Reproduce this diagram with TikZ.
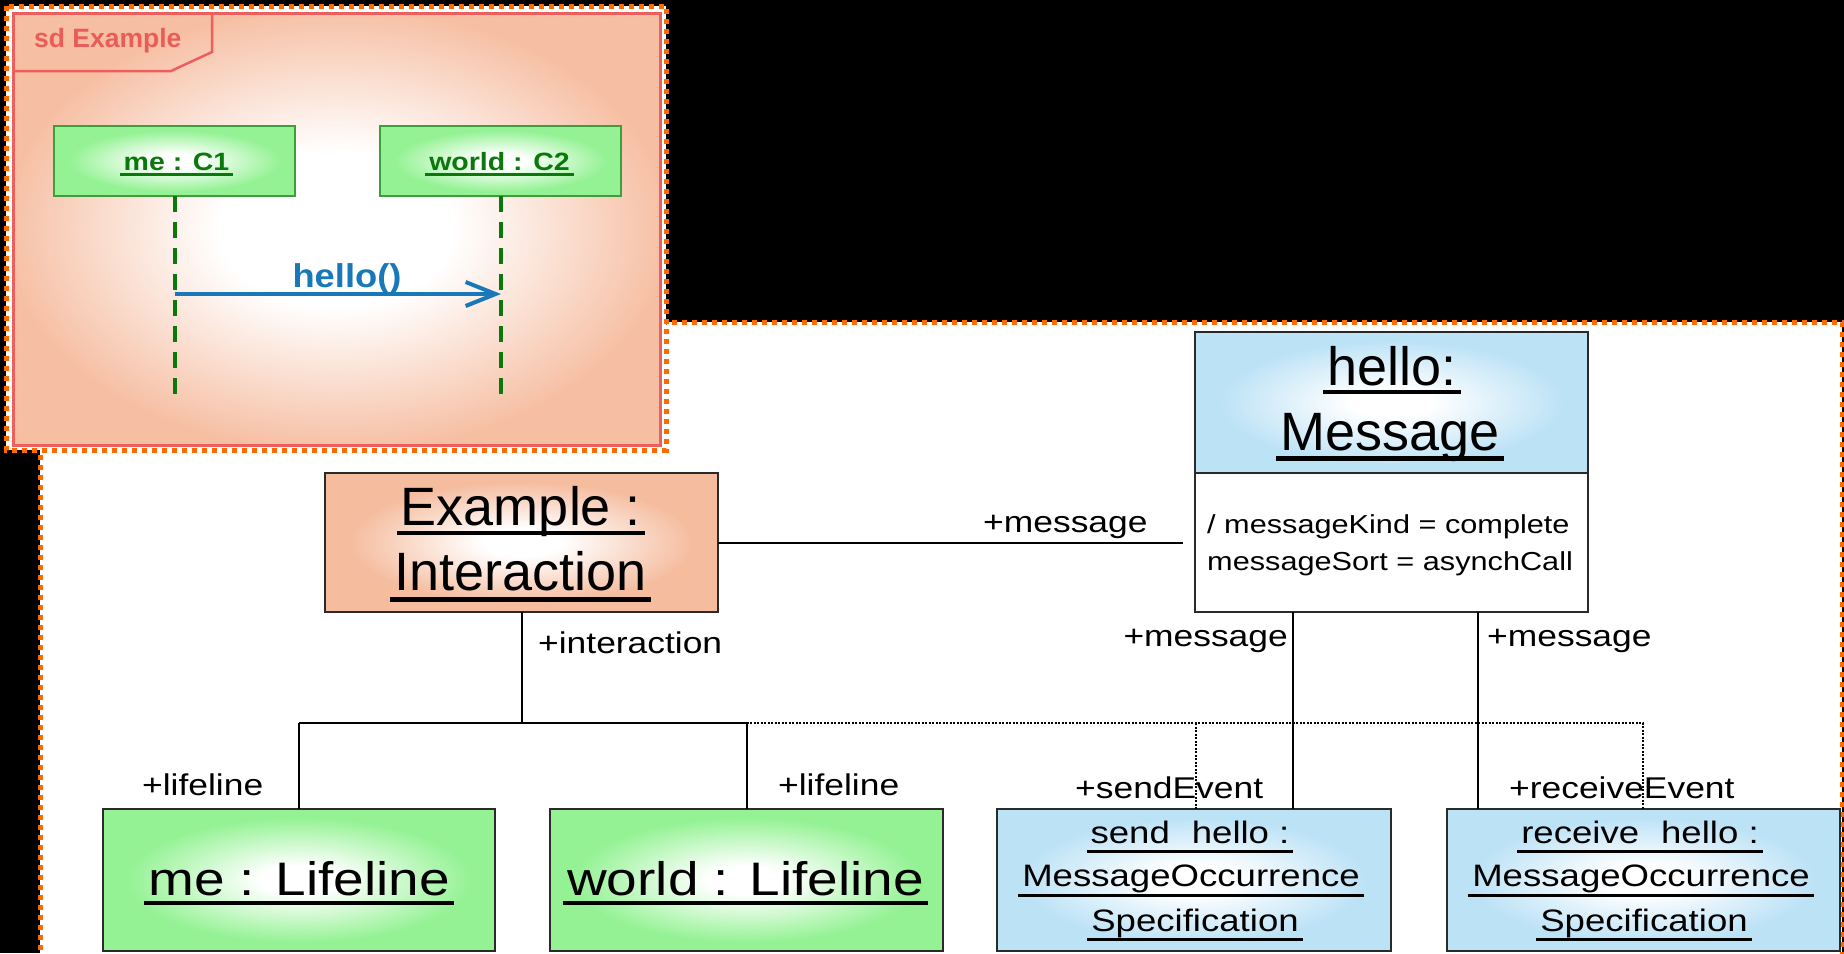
\documentclass[tikz,border=0pt]{standalone}
\usepackage{fontspec}
\setmainfont{Liberation Sans}
\usepackage{graphicx}
\usetikzlibrary{arrows.meta}
\definecolor{salmon}{HTML}{F5BC9E}
\definecolor{framesalmon}{HTML}{F6BEA2}
\definecolor{framered}{HTML}{EE5E5E}
\definecolor{lgreen}{HTML}{94F294}
\definecolor{dgreen}{HTML}{0A780A}
\definecolor{bgreen}{HTML}{3E9E3E}
\definecolor{lblue}{HTML}{BCE2F6}
\definecolor{arrowblue}{HTML}{1878B8}
\definecolor{dotorange}{HTML}{FF6A00}
\definecolor{sdred}{HTML}{E85C5C}
\definecolor{boxline}{HTML}{2A2A2A}
\pgfdeclareradialshading{salmonshade}{\pgfpoint{0bp}{0bp}}{color(0bp)=(white); color(5bp)=(white); color(22bp)=(salmon); color(50bp)=(salmon)}
\pgfdeclareradialshading{greenshade}{\pgfpoint{0bp}{0bp}}{color(0bp)=(white); color(5bp)=(white); color(22bp)=(lgreen); color(50bp)=(lgreen)}
\pgfdeclareradialshading{blueshade}{\pgfpoint{0bp}{0bp}}{color(0bp)=(white); color(5bp)=(white); color(22bp)=(lblue); color(50bp)=(lblue)}
\pgfdeclareradialshading{frameshade}{\pgfpoint{0bp}{0bp}}{color(0bp)=(white); color(9bp)=(white); color(26bp)=(framesalmon); color(50bp)=(framesalmon)}
% underlined, horizontally scaled text: #1 hscale, #2 rule thickness, #3 drop, #4 text
\newcommand\ulx[4]{\sbox0{\scalebox{#1}[1]{#4}}\rlap{\kern-4pt\raisebox{-#3}{\rule{\dimexpr\wd0+8pt\relax}{#2}}}\usebox0}
\newcommand\sx[1]{\scalebox{1.18}[1]{#1}}
\begin{document}
\begin{tikzpicture}[x=1pt,y=-1pt,
  orangedots/.style={draw=dotorange, line width=5pt, dash pattern=on 5pt off 5pt},
  seqbox/.style={draw=bgreen, line width=2pt, shading=greenshade, minimum width=241pt, minimum height=70pt, inner sep=0pt, outer sep=0pt},
  seqtext/.style={anchor=base, inner sep=0pt, text=dgreen, font=\fontsize{25}{30}\selectfont\bfseries},
  lifel/.style={draw=dgreen, line width=4pt, dash pattern=on 16pt off 10pt},
  msgarrow/.style={draw=arrowblue, line width=4pt, -{Straight Barb[length=30pt,width=24pt]}},
  objbox/.style={draw=boxline, line width=2pt, inner sep=0pt, outer sep=0pt},
  bigtext/.style={anchor=base, inner sep=0pt, font=\fontsize{54}{65}\selectfont},
  lltext/.style={anchor=base, inner sep=0pt, font=\fontsize{47}{57}\selectfont},
  occtext/.style={anchor=base, inner sep=0pt, font=\fontsize{31}{37}\selectfont},
  lbl/.style={inner sep=0pt, font=\fontsize{30}{36}\selectfont},
  attr/.style={anchor=base west, inner sep=0pt, font=\fontsize{26}{31}\selectfont},
  conn/.style={draw=black, line width=2pt},
  dotconn/.style={draw=black, line width=1.5pt, dash pattern=on 2pt off 1.5pt}]
\useasboundingbox (0,0) rectangle (1844,953);
\fill[black] (0,0) rectangle (1844,953);
% white area of the object diagram
\fill[white] (40,322) rectangle (1842,960);
\draw[orangedots] (40,960) -- (40,322) -- (1842,322) -- (1842,960);
% sequence diagram frame
\fill[white] (6,6) rectangle (666,450);
\draw[orangedots] (6,6) rectangle (666,450);
\shade[shading=frameshade] (13,13) rectangle (660,445);
\draw[draw=framered, line width=3pt] (13,13) rectangle (660,445);
\draw[draw=framered, line width=2.5pt] (212,13) -- (212,52) -- (171,71) -- (13,71);
\node[anchor=base west, inner sep=0pt, text=sdred, font=\fontsize{26.5}{32}\selectfont\bfseries] (sdlabel) at (34,47) {sd Example};
\node[seqbox] (meC1) at (174.5,161) {};
\node[seqbox] (worldC2) at (500.5,161) {};
\node[seqtext] (meC1t) at (176.5,170) {\ulx{1.14}{3pt}{6pt}{me : C1}};
\node[seqtext] (worldC2t) at (499.5,170) {\ulx{1.14}{3pt}{6pt}{world : C2}};
\coordinate (meEnd) at (175,398);
\coordinate (worldEnd) at (501,398);
\draw[lifel] (meC1.south -| meEnd) -- (meEnd);
\draw[lifel] (worldC2.south -| worldEnd) -- (worldEnd);
\coordinate (a1) at (175,294);
\coordinate (a2) at (501,294);
\draw[msgarrow] (a1) -- (a2);
\node[anchor=base, inner sep=0pt, text=arrowblue, font=\fontsize{33}{40}\selectfont\bfseries] (hellot) at (347,287) {\scalebox{1.1}[1]{hello()}};
% object diagram boxes
\node[objbox, shading=salmonshade, minimum width=393pt, minimum height=139pt] (exBox) at (521.5,542.5) {};
\node[objbox, shading=blueshade, minimum width=393pt, minimum height=141pt] (msgTop) at (1391.5,402.5) {};
\node[objbox, fill=white, minimum width=393pt, minimum height=139pt] (msgBot) at (1391.5,542.5) {};
\node[objbox, shading=greenshade, minimum width=392pt, minimum height=142pt] (meLL) at (299,880) {};
\node[objbox, shading=greenshade, minimum width=393pt, minimum height=142pt] (worldLL) at (746.5,880) {};
\node[objbox, shading=blueshade, minimum width=394pt, minimum height=142pt] (sendB) at (1194,880) {};
\node[objbox, shading=blueshade, minimum width=393pt, minimum height=142pt] (recvB) at (1643.5,880) {};
% texts in boxes
\node[bigtext] (ex1) at (521,525) {\ulx{1}{4pt}{10pt}{Example :}};
\node[bigtext] (ex2) at (520.5,590) {\ulx{1}{5pt}{12pt}{Interaction}};
\node[bigtext] (msg1) at (1392,385) {\ulx{1}{4pt}{9pt}{hello:}};
\node[bigtext] (msg2) at (1390,450) {\ulx{1}{5pt}{11pt}{Message}};
\node[attr] (at1) at (1207,533) {\sx{/ messageKind = complete}};
\node[attr] (at2) at (1207,570) {\sx{messageSort = asynchCall}};
\node[lltext] (me1) at (299,895) {\ulx{1.17}{4.5pt}{10pt}{me : Lifeline}};
\node[lltext] (wo1) at (745.5,895) {\ulx{1.17}{4.5pt}{10pt}{world : Lifeline}};
\node[occtext] (s1) at (1190,843) {\ulx{1.18}{3.5pt}{10pt}{send\hspace{0.6em}hello :}};
\node[occtext] (s2) at (1191,886) {\ulx{1.18}{3.5pt}{11pt}{MessageOccurrence}};
\node[occtext] (s3) at (1195,931) {\ulx{1.18}{3.5pt}{10pt}{Specification}};
\node[occtext] (r1) at (1640,843) {\ulx{1.18}{3.5pt}{10pt}{receive\hspace{0.6em}hello :}};
\node[occtext] (r2) at (1641,886) {\ulx{1.18}{3.5pt}{11pt}{MessageOccurrence}};
\node[occtext] (r3) at (1644,931) {\ulx{1.18}{3.5pt}{10pt}{Specification}};
% connectors
\coordinate (bus) at (0,723);
\coordinate (dS) at (1196,723);
\coordinate (dR) at (1643,723);
\coordinate (mS) at (1293,0);
\coordinate (mR) at (1478,0);
\draw[conn] (exBox.east) -- ([xshift=-12pt]msgBot.west);
\draw[conn] (exBox.south) -- (exBox.south |- bus);
\draw[conn] (meLL.north |- bus) -- (worldLL.north |- bus);
\draw[conn] (meLL.north |- bus) -- (meLL.north);
\draw[conn] (worldLL.north |- bus) -- (worldLL.north);
\draw[dotconn] (worldLL.north |- bus) -- (dR) -- (dR |- recvB.north);
\draw[dotconn] (dS) -- (dS |- sendB.north);
\draw[conn] (msgBot.south -| mS) -- (sendB.north -| mS);
\draw[conn] (msgBot.south -| mR) -- (recvB.north -| mR);
% role labels
\node[lbl, anchor=base west] (lmsgA) at (983,532) {\sx{+message}};
\node[lbl, anchor=base west] (linter) at (538,653) {\sx{+interaction}};
\node[lbl, anchor=base east] (lmsgS) at (1288,646) {\sx{+message}};
\node[lbl, anchor=base west] (lmsgR) at (1487,646) {\sx{+message}};
\node[lbl, anchor=base west] (llife1) at (142,795) {\sx{+lifeline}};
\node[lbl, anchor=base west] (llife2) at (778,795) {\sx{+lifeline}};
\node[lbl, anchor=base west] (lsend) at (1075,798) {\sx{+sendEvent}};
\node[lbl, anchor=base west] (lrecv) at (1509,798) {\sx{+receiveEvent}};
\end{tikzpicture}
\end{document}
